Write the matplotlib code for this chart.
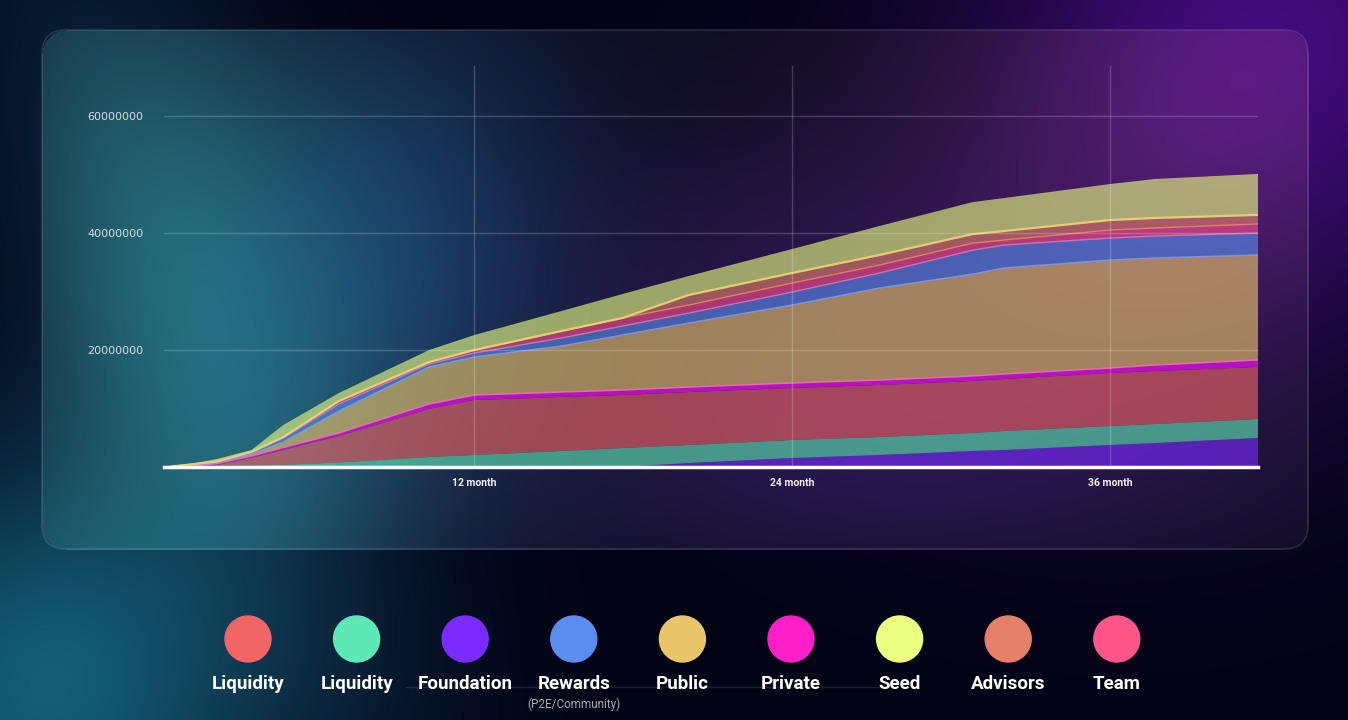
import numpy as np
import matplotlib
matplotlib.use('Agg')
import matplotlib.pyplot as plt
from matplotlib.patches import FancyBboxPatch, Circle

# months on the x axis and token release per allocation (millions), stacked bottom -> top
months = [0.6, 1.5, 2.3, 3.6, 4.8, 6.9, 10.3, 12, 15.3, 17.6, 20.1, 24, 27.3, 30.8, 32, 36, 37.7, 41.58]
foundation = [0, 0, 0, 0, 0, 0, 0, 0, 0, 0, 0.68, 1.54, 2.05, 2.74, 2.91, 3.76, 4.10, 4.96]
liquidity_b = [0, 0, 0.17, 0.26, 0.34, 0.77, 1.71, 2.05, 2.74, 3.25, 3.08, 3.08, 3.08, 3.08, 3.25, 3.25, 3.25, 3.25]
liquidity_a = [0, 0.09, 0.17, 1.28, 2.56, 4.53, 8.21, 9.40, 9.23, 9.06, 9.06, 8.89, 8.89, 8.89, 8.89, 9.06, 9.06, 8.89]
private = [0, 0.09, 0.26, 0.34, 0.43, 0.51, 0.85, 0.85, 0.85, 0.85, 0.85, 0.85, 0.85, 0.85, 0.85, 0.85, 1.03, 1.20]
public = [0.1, 0.09, 0.09, 0.34, 0.94, 3.76, 6.32, 6.50, 7.86, 9.40, 10.94, 13.33, 15.73, 17.40, 18.12, 18.46, 18.29, 17.95]
rewards = [0, 0, 0.09, 0.26, 0.68, 1.20, 0.51, 0.68, 1.37, 1.54, 1.71, 2.22, 2.56, 4.10, 3.93, 3.76, 3.76, 3.76]
team = [0, 0.26, 0.17, 0.09, 0.17, 0.51, 0.34, 0.51, 1.20, 1.37, 1.37, 1.54, 1.37, 1.20, 0.85, 1.37, 1.37, 1.54]
advisors = [0, 0, 0, 0, 0, 0, 0, 0, 0, 0, 1.71, 1.71, 1.71, 1.54, 1.54, 1.71, 1.71, 1.54]
seed = [0.1, 0.17, 0.43, 0.34, 2.05, 1.37, 2.05, 2.56, 3.42, 4.10, 3.25, 4.10, 4.96, 5.47, 5.64, 6.15, 6.67, 7.01]

yticks = [20000000, 40000000, 60000000]
xticks = [12, 24, 36]
xtick_labels = ['12 month', '24 month', '36 month']

legend_names = ['Liquidity', 'Liquidity', 'Foundation', 'Rewards', 'Public', 'Private', 'Seed', 'Advisors', 'Team']
legend_colors = ['#f06565', '#5ee8b5', '#7a2bff', '#5b8def', '#ebc56a', '#ff1fc8', '#eaff80', '#e5806a', '#ff5588']

W, H = 1348, 720
fig = plt.figure(figsize=(W / 100, H / 100), dpi=100)

# ---- background glow ----
yy, xx = np.mgrid[0:H, 0:W].astype(float)


def blob(cx, cy, sx, sy, col, ang=0.0):
    a = np.deg2rad(ang)
    dx, dy = xx - cx, yy - cy
    u = dx * np.cos(a) + dy * np.sin(a)
    v = -dx * np.sin(a) + dy * np.cos(a)
    g = np.exp(-(u ** 2 / (2 * sx ** 2) + v ** 2 / (2 * sy ** 2)))
    return g[..., None] * np.array(col) / 255


img = np.zeros((H, W, 3))
img[:] = np.array([3, 3, 22]) / 255
img += blob(40, 690, 150, 160, (16, 88, 92))
img += blob(190, 330, 110, 330, (10, 40, 45), ang=-20)
img += blob(1270, 30, 200, 170, (60, 8, 95))
img += blob(1100, 300, 220, 150, (22, 6, 36))

# panel (glass) region: a little lighter, glows show stronger behind it
px0, py0, px1, py1, rr = 42, 30, 1308, 549, 24
cx_ = np.clip(xx, px0 + rr, px1 - rr)
cy_ = np.clip(yy, py0 + rr, py1 - rr)
inside = ((xx - cx_) ** 2 + (yy - cy_) ** 2 <= rr ** 2) & (xx >= px0) & (xx <= px1) & (yy >= py0) & (yy <= py1)
extra = np.zeros((H, W, 3))
extra += np.array([9, 9, 7]) / 255
extra += blob(190, 260, 150, 250, (14, 50, 42), ang=-15)
extra += blob(410, 230, 120, 170, (8, 32, 52))
extra += blob(1180, 140, 210, 150, (16, 8, 0))
extra += blob(760, 300, 170, 110, (18, 6, 30))
extra += blob(860, 480, 260, 80, (16, 8, 30))
img = img + extra * inside[..., None]
img = np.clip(img, 0, 1)

bg = fig.add_axes([0, 0, 1, 1])
bg.imshow(img, extent=[0, W, H, 0], aspect='auto', zorder=0)
bg.set_xlim(0, W)
bg.set_ylim(H, 0)
bg.axis('off')

panel = FancyBboxPatch((px0, py0), px1 - px0, py1 - py0, boxstyle='round,pad=0,rounding_size=24',
                       facecolor='none', edgecolor=(1, 1, 1, 0.13), lw=1.2, zorder=1)
bg.add_patch(panel)

# legend
for i, (name, col) in enumerate(zip(legend_names, legend_colors)):
    cx = 248 + i * 108.6
    bg.add_patch(Circle((cx, 639), 23, color=col, zorder=3))
    bg.text(cx, 684, name, color='white', fontsize=13.5, fontweight='bold', family='Roboto',
            ha='center', va='center', zorder=3)
bg.text(248 + 3 * 108.6, 704, '(P2E/Community)', color='#a8a8b0', fontsize=8.5, family='Roboto',
        ha='center', va='center', zorder=3)
bg.plot([406, 885], [687, 687], color=(1, 1, 1, 0.1), lw=1, zorder=2)

# ---- chart ----
ax = fig.add_axes([164 / W, (H - 467) / H, (1258 - 164) / W, (467 - 66) / H])
ax.patch.set_alpha(0)

series = [foundation, liquidity_b, liquidity_a, private, public, rewards, team, advisors, seed]
vals = [np.array(s) * 1e6 for s in series]
fill_cols = ['#7a2bff', '#5ee8b5', '#f06565', '#c810d4', '#ebc56a', '#5b8def', '#ff4f8e', '#e5806a', '#eaff80']
polys = ax.stackplot(months, *vals, colors=fill_cols, alpha=0.62, lw=0, zorder=1)
polys[3].set_alpha(0.9)

cum = np.cumsum(vals, axis=0)
edge = {3: ('#e8789c', 1.1), 4: ('#7f9cec', 1.0), 5: ('#d878b8', 1.0), 6: ('#ec8468', 1.0), 7: ('#ecd774', 1.6)}
for k, (c, lw) in edge.items():
    ax.plot(months, cum[k], color=c, lw=lw, alpha=0.9, zorder=2)

ax.set_xlim(0.3, 41.58)
ax.set_ylim(0, 68.55e6)
ax.set_yticks(yticks)
ax.set_yticklabels([str(t) for t in yticks])
ax.set_xticks(xticks)
ax.set_xticklabels(xtick_labels)
ax.tick_params(axis='y', length=0, pad=15, labelsize=8, labelcolor='#d6dde0')
ax.tick_params(axis='x', length=0, pad=8, labelsize=7.5, labelcolor='#f2f2f2')
for lab in ax.get_xticklabels():
    lab.set_fontweight('bold')
    lab.set_family('Roboto')
ax.grid(True, color='white', alpha=0.2, lw=1)
ax.set_axisbelow(False)
for s in ['top', 'right', 'left']:
    ax.spines[s].set_visible(False)
ax.spines['bottom'].set_color('white')
ax.spines['bottom'].set_linewidth(2.5)
ax.spines['bottom'].set_zorder(5)

fig.savefig('out.png', dpi=100, facecolor='#03031a')
